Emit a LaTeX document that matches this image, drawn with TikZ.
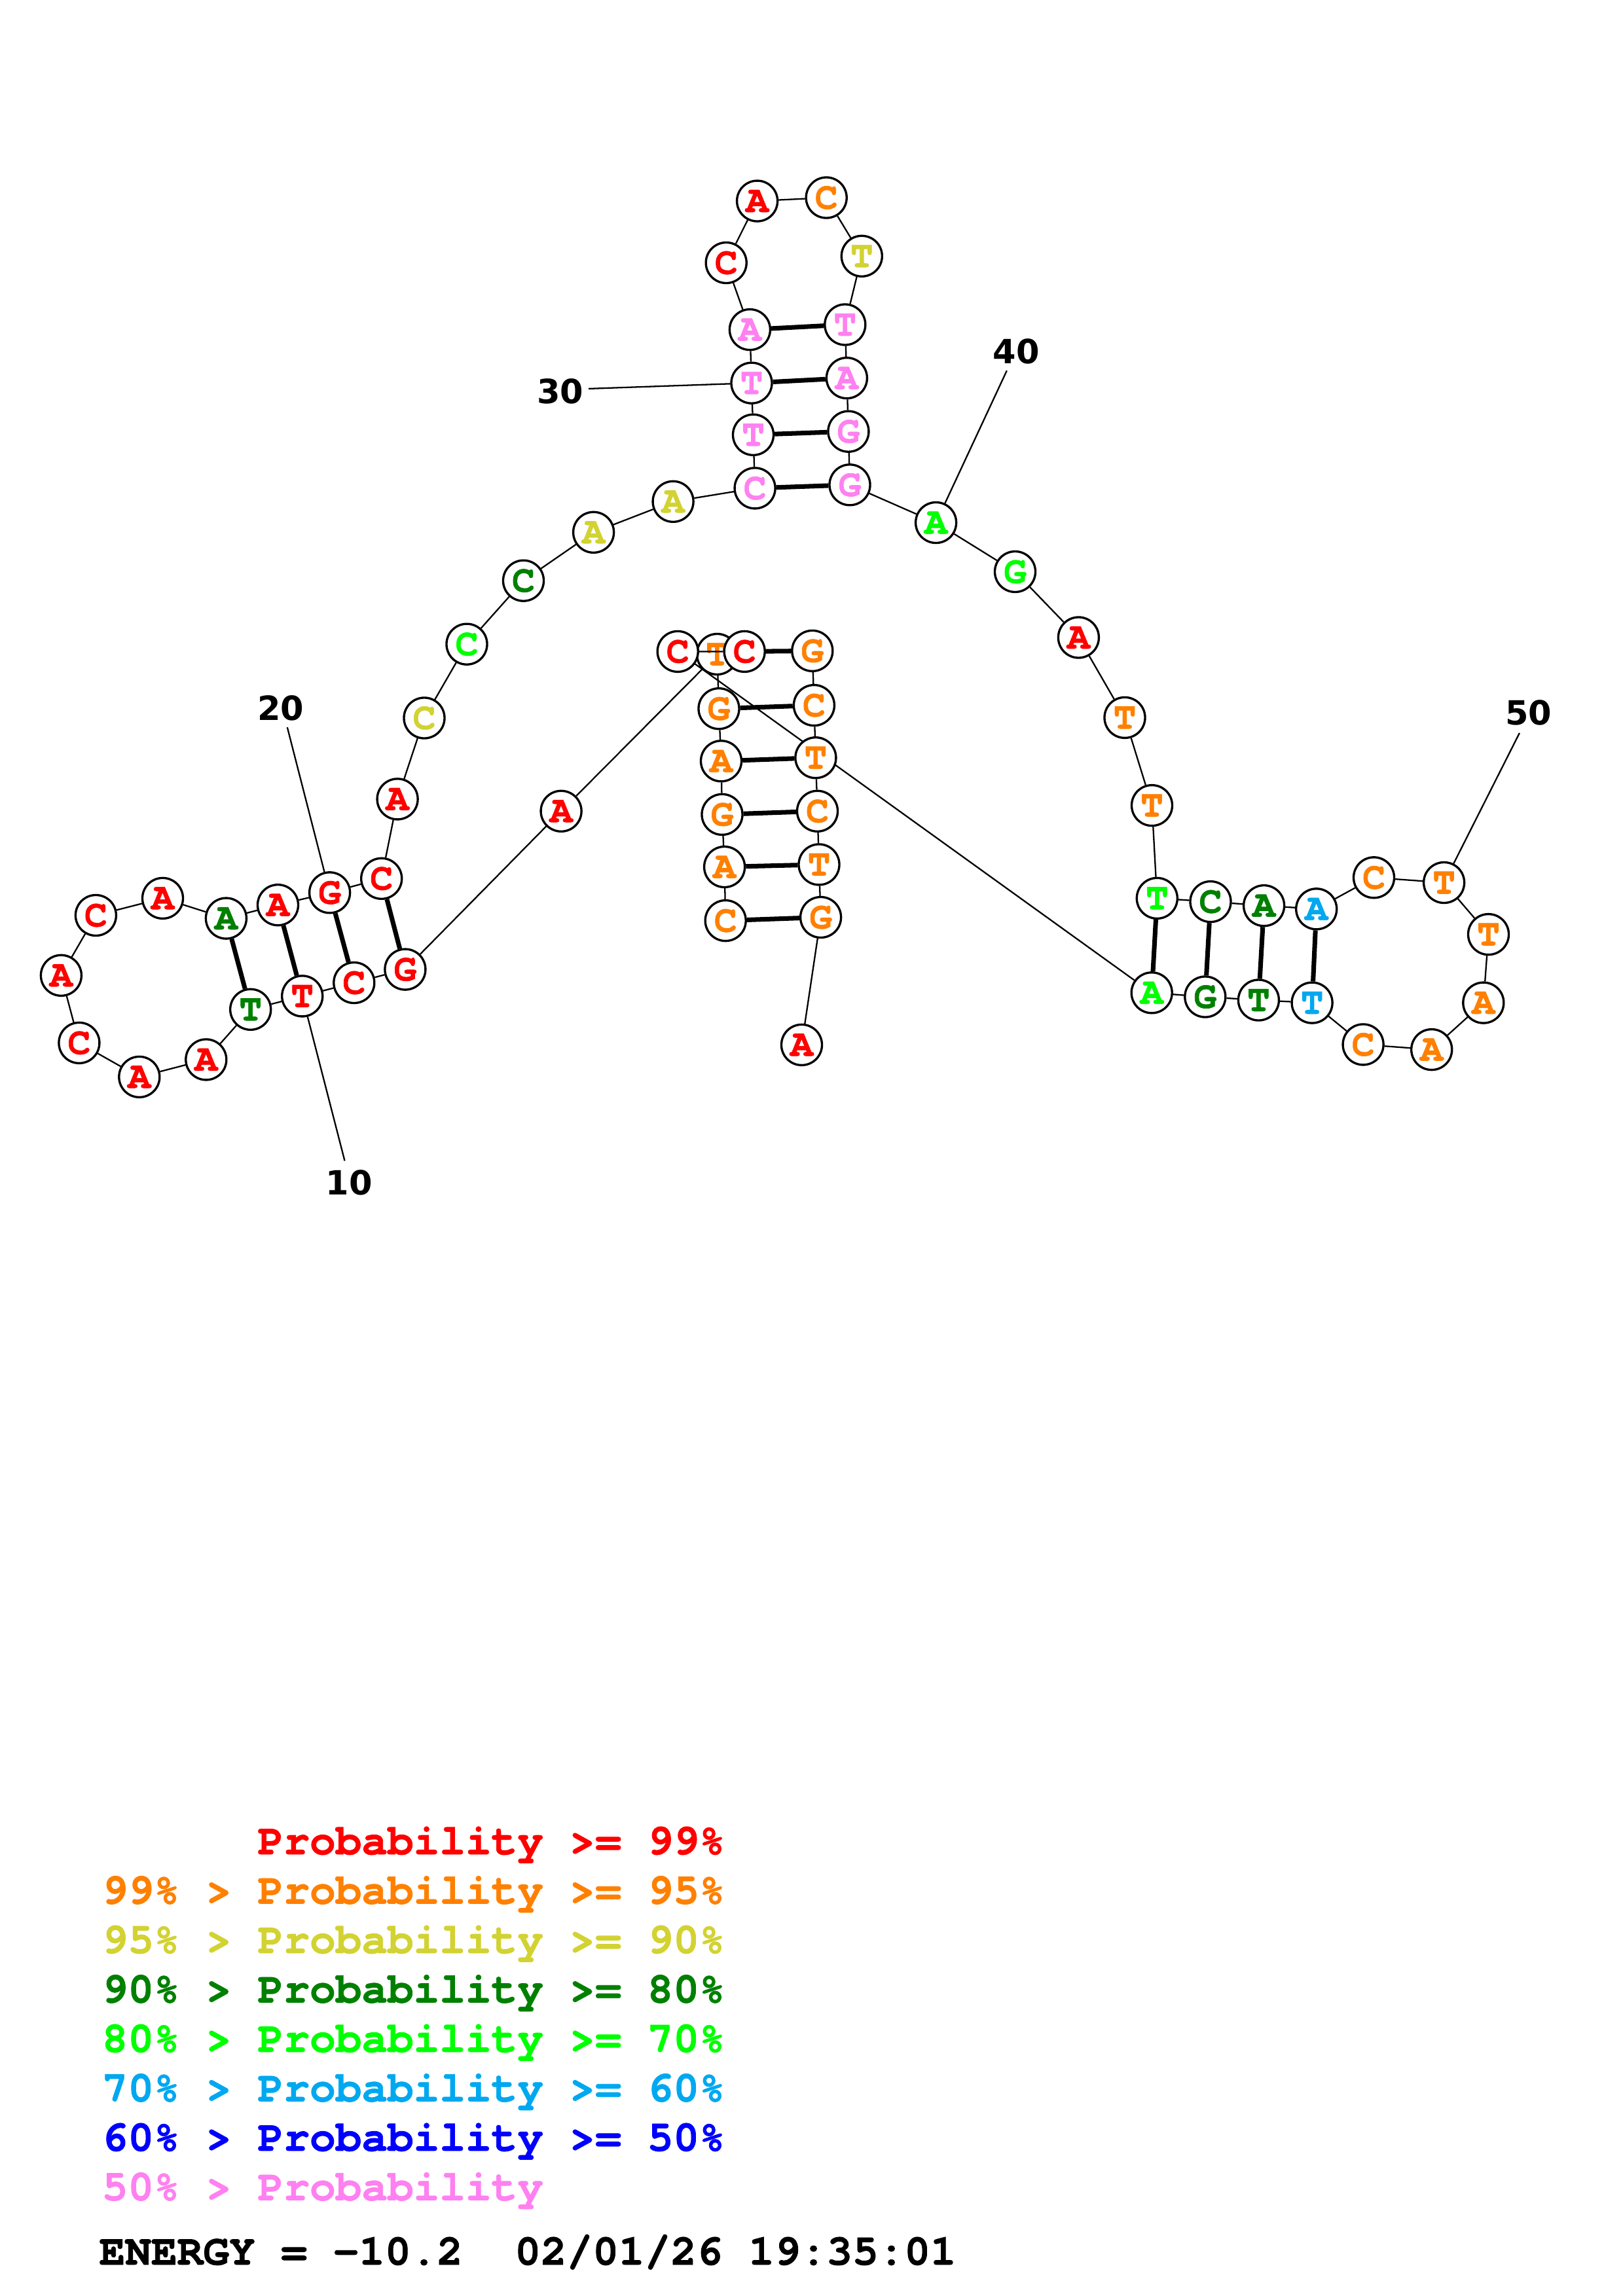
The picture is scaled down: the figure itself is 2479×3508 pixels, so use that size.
\documentclass[tikz,border=0pt]{standalone}
\usepackage{fontspec}
\usepackage{tikz}
\newfontfamily\monofam{texgyrecursor}[Extension=.otf, UprightFont=*-bold, BoldFont=*-bold, FakeBold=1.2]
\newfontfamily\numfam{DejaVu Sans}

\definecolor{p99}{HTML}{FF0000}
\definecolor{p95}{HTML}{FF8000}
\definecolor{p90}{HTML}{D2D232}
\definecolor{p80}{HTML}{008000}
\definecolor{p70}{HTML}{00FF00}
\definecolor{p60}{HTML}{00A8F0}
\definecolor{p50}{HTML}{0000FF}
\definecolor{plow}{HTML}{FF80F0}

\pgfdeclarelayer{under}
\pgfdeclarelayer{bonds}
\pgfsetlayers{under,bonds,main}

\tikzset{
  nuc/.style={circle, draw, fill=white, line width=0.95pt, minimum size=0.62cm, inner sep=0pt,
    font=\monofam\fontsize{16.5}{16}\selectfont},
  backbone/.style={line width=0.65pt},
  bond/.style={line width=2pt},
  numline/.style={line width=0.65pt},
  numlab/.style={font=\numfam\bfseries\fontsize{14.5}{16}\selectfont},
  legend/.style={anchor=base west, inner sep=0pt, font=\monofam\fontsize{18.8}{20}\selectfont}
}

\begin{document}
\begin{tikzpicture}[x=0.01cm, y=-0.01cm]
    \path[use as bounding box] (0,0) rectangle (2479,3508);

    \begin{pgfonlayer}{under}
        \node[nuc, text=p95] (b6) at (1095.4, 999.5) {T};
    \end{pgfonlayer}

    \node[nuc, text=p95] (b1) at (1108.2, 1406.6) {C};
    \node[nuc, text=p95] (b2) at (1106.6, 1324.5) {A};
    \node[nuc, text=p95] (b3) at (1103.0, 1244.4) {G};
    \node[nuc, text=p95] (b4) at (1101.5, 1162.8) {A};
    \node[nuc, text=p95] (b5) at (1098.0, 1082.7) {G};
    \node[nuc, text=p99] (b7) at (857.1, 1239.3) {A};
    \node[nuc, text=p99] (b8) at (618.9, 1481.1) {G};
    \node[nuc, text=p99] (b9) at (540.8, 1501.5) {C};
    \node[nuc, text=p99] (b10) at (461.7, 1521.9) {T};
    \node[nuc, text=p80] (b11) at (382.7, 1542.3) {T};
    \node[nuc, text=p99] (b12) at (314.8, 1618.9) {A};
    \node[nuc, text=p99] (b13) at (212.8, 1645.4) {A};
    \node[nuc, text=p99] (b14) at (120.9, 1593.4) {C};
    \node[nuc, text=p99] (b15) at (93.4, 1490.3) {A};
    \node[nuc, text=p99] (b16) at (146.4, 1398.5) {C};
    \node[nuc, text=p99] (b17) at (248.5, 1372.4) {A};
    \node[nuc, text=p80] (b18) at (345.4, 1403.1) {A};
    \node[nuc, text=p99] (b19) at (424.5, 1382.7) {A};
    \node[nuc, text=p99] (b20) at (503.6, 1363.8) {G};
    \node[nuc, text=p99] (b21) at (582.7, 1342.3) {C};
    \node[nuc, text=p99] (b22) at (607.1, 1220.9) {A};
    \node[nuc, text=p90] (b23) at (648.0, 1097.0) {C};
    \node[nuc, text=p70] (b24) at (713.0, 984.2) {C};
    \node[nuc, text=p80] (b25) at (799.5, 887.2) {C};
    \node[nuc, text=p90] (b26) at (906.6, 813.3) {A};
    \node[nuc, text=p90] (b27) at (1028.1, 766.3) {A};
    \node[nuc, text=plow] (b28) at (1153.1, 745.9) {C};
    \node[nuc, text=plow] (b29) at (1150.5, 664.3) {T};
    \node[nuc, text=plow] (b30) at (1148.0, 585.2) {T};
    \node[nuc, text=plow] (b31) at (1145.4, 503.6) {A};
    \node[nuc, text=p99] (b32) at (1109.2, 401.5) {C};
    \node[nuc, text=p99] (b33) at (1156.6, 307.1) {A};
    \node[nuc, text=p95] (b34) at (1262.2, 302.0) {C};
    \node[nuc, text=p90] (b35) at (1316.3, 391.3) {T};
    \node[nuc, text=plow] (b36) at (1290.8, 496.0) {T};
    \node[nuc, text=plow] (b37) at (1293.4, 577.6) {A};
    \node[nuc, text=plow] (b38) at (1295.9, 659.2) {G};
    \node[nuc, text=plow] (b39) at (1298.0, 740.8) {G};
    \node[nuc, text=p70] (b40) at (1429.6, 798.5) {A};
    \node[nuc, text=p70] (b41) at (1550.5, 873.5) {G};
    \node[nuc, text=p99] (b42) at (1647.4, 974.0) {A};
    \node[nuc, text=p95] (b43) at (1718.0, 1096.4) {T};
    \node[nuc, text=p95] (b44) at (1759.5, 1230.6) {T};
    \node[nuc, text=p70] (b45) at (1767.3, 1372.4) {T};
    \node[nuc, text=p80] (b46) at (1849.0, 1377.6) {C};
    \node[nuc, text=p80] (b47) at (1930.6, 1383.7) {A};
    \node[nuc, text=p60] (b48) at (2010.7, 1388.8) {A};
    \node[nuc, text=p95] (b49) at (2098.5, 1340.8) {C};
    \node[nuc, text=p95] (b50) at (2205.6, 1348.5) {T};
    \node[nuc, text=p95] (b51) at (2273.5, 1427.6) {T};
    \node[nuc, text=p95] (b52) at (2265.8, 1532.1) {A};
    \node[nuc, text=p95] (b53) at (2186.7, 1603.6) {A};
    \node[nuc, text=p95] (b54) at (2082.1, 1595.9) {C};
    \node[nuc, text=p60] (b55) at (2004.1, 1532.1) {T};
    \node[nuc, text=p80] (b56) at (1922.4, 1528.0) {T};
    \node[nuc, text=p80] (b57) at (1840.8, 1523.0) {G};
    \node[nuc, text=p70] (b58) at (1759.2, 1516.8) {A};
    \node[nuc, text=p99] (b59) at (1035.2, 995.4) {C};
    \node[nuc, text=p99] (b60) at (1137.2, 995.4) {C};
    \node[nuc, text=p95] (b61) at (1240.8, 994.4) {G};
    \node[nuc, text=p95] (b62) at (1243.4, 1077.6) {C};
    \node[nuc, text=p95] (b63) at (1245.9, 1157.7) {T};
    \node[nuc, text=p95] (b64) at (1248.5, 1239.3) {C};
    \node[nuc, text=p95] (b65) at (1251.0, 1320.9) {T};
    \node[nuc, text=p95] (b66) at (1253.6, 1401.5) {G};
    \node[nuc, text=p99] (b67) at (1224.5, 1596.4) {A};

    \begin{pgfonlayer}{bonds}
        \draw[backbone] (b1) -- (b2) -- (b3) -- (b4) -- (b5) -- (b6) -- (b7) -- (b8) -- (b9) -- (b10)
            -- (b11) -- (b12) -- (b13) -- (b14) -- (b15) -- (b16) -- (b17) -- (b18) -- (b19) -- (b20)
            -- (b21) -- (b22) -- (b23) -- (b24) -- (b25) -- (b26) -- (b27) -- (b28) -- (b29) -- (b30)
            -- (b31) -- (b32) -- (b33) -- (b34) -- (b35) -- (b36) -- (b37) -- (b38) -- (b39) -- (b40)
            -- (b41) -- (b42) -- (b43) -- (b44) -- (b45) -- (b46) -- (b47) -- (b48) -- (b49) -- (b50)
            -- (b51) -- (b52) -- (b53) -- (b54) -- (b55) -- (b56) -- (b57) -- (b58) -- (b59) -- (b60)
            -- (b61) -- (b62) -- (b63) -- (b64) -- (b65) -- (b66) -- (b67);

        \draw[bond] (b1) -- (b66);
        \draw[bond] (b2) -- (b65);
        \draw[bond] (b3) -- (b64);
        \draw[bond] (b4) -- (b63);
        \draw[bond] (b5) -- (b62);
        \draw[bond] (b8) -- (b21);
        \draw[bond] (b9) -- (b20);
        \draw[bond] (b10) -- (b19);
        \draw[bond] (b11) -- (b18);
        \draw[bond] (b28) -- (b39);
        \draw[bond] (b29) -- (b38);
        \draw[bond] (b30) -- (b37);
        \draw[bond] (b31) -- (b36);
        \draw[bond] (b45) -- (b58);
        \draw[bond] (b46) -- (b57);
        \draw[bond] (b47) -- (b56);
        \draw[bond] (b48) -- (b55);
        \draw[bond] (b60) -- (b61);
    \end{pgfonlayer}

    \coordinate (t10) at (526.5, 1773.5);
    \coordinate (t20) at (438.8, 1111.2);
    \coordinate (t30) at (899.0, 593.9);
    \coordinate (t40) at (1537.8, 566.3);
    \coordinate (t50) at (2320.9, 1119.9);
    \draw[numline] (b10) -- (t10);
    \draw[numline] (b20) -- (t20);
    \draw[numline] (b30) -- (t30);
    \draw[numline] (b40) -- (t40);
    \draw[numline] (b50) -- (t50);
    \node[numlab] (n10) at (533.0, 1807.0) {10};
    \node[numlab] (n20) at (428.6, 1081.6) {20};
    \node[numlab] (n30) at (855.6, 598.0) {30};
    \node[numlab] (n40) at (1552.0, 536.7) {40};
    \node[numlab] (n50) at (2334.7, 1089.3) {50};

    \node[legend, text=p99] (l99) at (155, 2833.0) {\phantom{99\%~>~}Probability~>=~99\%};
    \node[legend, text=p95] (l95) at (155, 2908.5) {99\%~>~Probability~>=~95\%};
    \node[legend, text=p90] (l90) at (155, 2984.0) {95\%~>~Probability~>=~90\%};
    \node[legend, text=p80] (l80) at (155, 3059.5) {90\%~>~Probability~>=~80\%};
    \node[legend, text=p70] (l70) at (155, 3135.0) {80\%~>~Probability~>=~70\%};
    \node[legend, text=p60] (l60) at (155, 3210.5) {70\%~>~Probability~>=~60\%};
    \node[legend, text=p50] (l50) at (155, 3286.0) {60\%~>~Probability~>=~50\%};
    \node[legend, text=plow] (llow) at (155, 3361.5) {50\%~>~Probability};
    \node[legend] (energy) at (151, 3460.0) {ENERGY~=~-10.2~~02/01/26~19:35:01};
\end{tikzpicture}
\end{document}
